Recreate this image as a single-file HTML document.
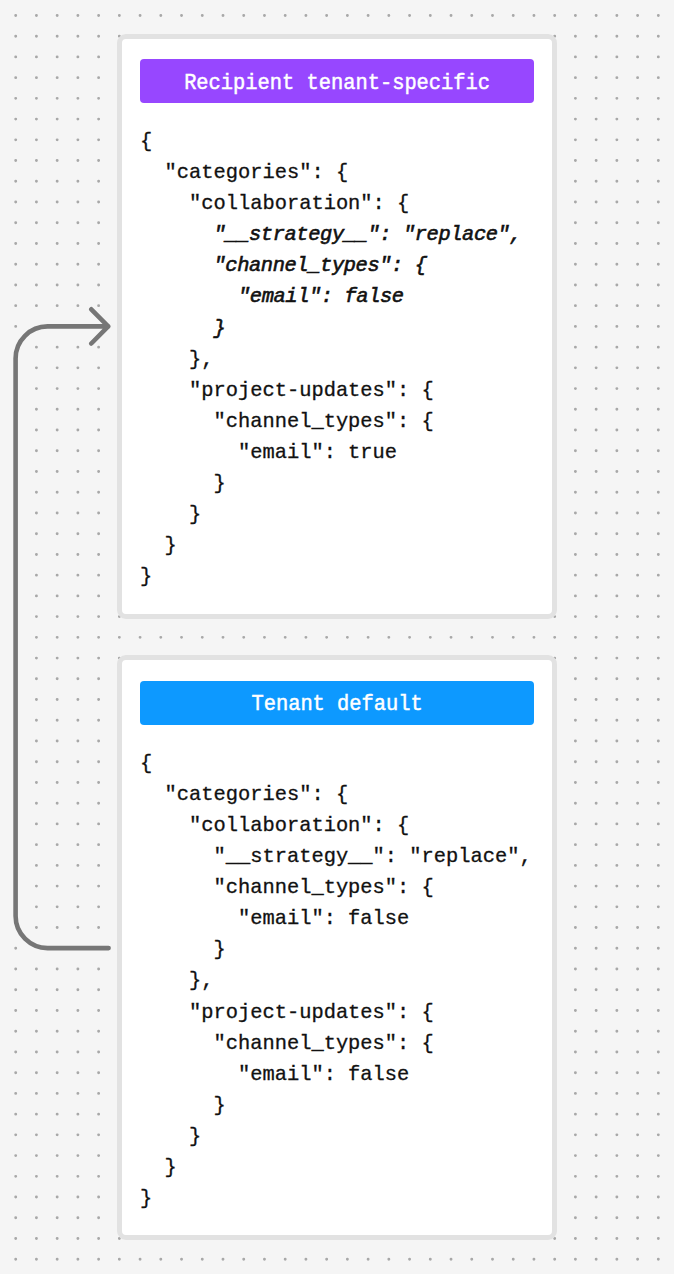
<!DOCTYPE html>
<html><head><meta charset="utf-8"><style>
html,body{margin:0;padding:0;}
body{width:674px;height:1274px;position:relative;overflow:hidden;background:#f5f5f5;font-family:"Liberation Mono",monospace;}
svg.bgd{position:absolute;left:0;top:0;}
.card{position:absolute;left:117.0px;width:429.80px;height:575.00px;border:5.0px solid #e2e2e2;border-radius:9px;background:#fff;}
.hdr{position:absolute;left:140.1px;width:394.0px;height:44.5px;border-radius:4px;}
.htxt{position:absolute;left:140.1px;width:394.0px;text-align:center;color:#fff;font-size:20.4px;line-height:31.09px;white-space:pre;-webkit-text-stroke:0.45px #fff;transform:scaleY(1.08);transform-origin:50% 20.97px;}
.ln{position:absolute;left:140.1px;font-size:20.4px;line-height:31.09px;white-space:pre;color:#111;-webkit-text-stroke:0.3px #111;}
.i0{letter-spacing:0;}
.em{font-style:italic;letter-spacing:-0.4px;-webkit-text-stroke:0.6px #111;}
</style></head><body>
<svg class="bgd" width="674" height="1274"><path d="M15.70 15.45h0M36.43 15.45h0M57.16 15.45h0M77.89 15.45h0M98.62 15.45h0M119.35 15.45h0M140.08 15.45h0M160.81 15.45h0M181.54 15.45h0M202.27 15.45h0M223.00 15.45h0M243.73 15.45h0M264.46 15.45h0M285.19 15.45h0M305.92 15.45h0M326.65 15.45h0M347.38 15.45h0M368.11 15.45h0M388.84 15.45h0M409.57 15.45h0M430.30 15.45h0M451.03 15.45h0M471.76 15.45h0M492.49 15.45h0M513.22 15.45h0M533.95 15.45h0M554.68 15.45h0M575.41 15.45h0M596.14 15.45h0M616.87 15.45h0M637.60 15.45h0M658.33 15.45h0M679.06 15.45h0M15.70 36.18h0M36.43 36.18h0M57.16 36.18h0M77.89 36.18h0M98.62 36.18h0M119.35 36.18h0M140.08 36.18h0M160.81 36.18h0M181.54 36.18h0M202.27 36.18h0M223.00 36.18h0M243.73 36.18h0M264.46 36.18h0M285.19 36.18h0M305.92 36.18h0M326.65 36.18h0M347.38 36.18h0M368.11 36.18h0M388.84 36.18h0M409.57 36.18h0M430.30 36.18h0M451.03 36.18h0M471.76 36.18h0M492.49 36.18h0M513.22 36.18h0M533.95 36.18h0M554.68 36.18h0M575.41 36.18h0M596.14 36.18h0M616.87 36.18h0M637.60 36.18h0M658.33 36.18h0M679.06 36.18h0M15.70 56.91h0M36.43 56.91h0M57.16 56.91h0M77.89 56.91h0M98.62 56.91h0M119.35 56.91h0M140.08 56.91h0M160.81 56.91h0M181.54 56.91h0M202.27 56.91h0M223.00 56.91h0M243.73 56.91h0M264.46 56.91h0M285.19 56.91h0M305.92 56.91h0M326.65 56.91h0M347.38 56.91h0M368.11 56.91h0M388.84 56.91h0M409.57 56.91h0M430.30 56.91h0M451.03 56.91h0M471.76 56.91h0M492.49 56.91h0M513.22 56.91h0M533.95 56.91h0M554.68 56.91h0M575.41 56.91h0M596.14 56.91h0M616.87 56.91h0M637.60 56.91h0M658.33 56.91h0M679.06 56.91h0M15.70 77.64h0M36.43 77.64h0M57.16 77.64h0M77.89 77.64h0M98.62 77.64h0M119.35 77.64h0M140.08 77.64h0M160.81 77.64h0M181.54 77.64h0M202.27 77.64h0M223.00 77.64h0M243.73 77.64h0M264.46 77.64h0M285.19 77.64h0M305.92 77.64h0M326.65 77.64h0M347.38 77.64h0M368.11 77.64h0M388.84 77.64h0M409.57 77.64h0M430.30 77.64h0M451.03 77.64h0M471.76 77.64h0M492.49 77.64h0M513.22 77.64h0M533.95 77.64h0M554.68 77.64h0M575.41 77.64h0M596.14 77.64h0M616.87 77.64h0M637.60 77.64h0M658.33 77.64h0M679.06 77.64h0M15.70 98.37h0M36.43 98.37h0M57.16 98.37h0M77.89 98.37h0M98.62 98.37h0M119.35 98.37h0M140.08 98.37h0M160.81 98.37h0M181.54 98.37h0M202.27 98.37h0M223.00 98.37h0M243.73 98.37h0M264.46 98.37h0M285.19 98.37h0M305.92 98.37h0M326.65 98.37h0M347.38 98.37h0M368.11 98.37h0M388.84 98.37h0M409.57 98.37h0M430.30 98.37h0M451.03 98.37h0M471.76 98.37h0M492.49 98.37h0M513.22 98.37h0M533.95 98.37h0M554.68 98.37h0M575.41 98.37h0M596.14 98.37h0M616.87 98.37h0M637.60 98.37h0M658.33 98.37h0M679.06 98.37h0M15.70 119.10h0M36.43 119.10h0M57.16 119.10h0M77.89 119.10h0M98.62 119.10h0M119.35 119.10h0M140.08 119.10h0M160.81 119.10h0M181.54 119.10h0M202.27 119.10h0M223.00 119.10h0M243.73 119.10h0M264.46 119.10h0M285.19 119.10h0M305.92 119.10h0M326.65 119.10h0M347.38 119.10h0M368.11 119.10h0M388.84 119.10h0M409.57 119.10h0M430.30 119.10h0M451.03 119.10h0M471.76 119.10h0M492.49 119.10h0M513.22 119.10h0M533.95 119.10h0M554.68 119.10h0M575.41 119.10h0M596.14 119.10h0M616.87 119.10h0M637.60 119.10h0M658.33 119.10h0M679.06 119.10h0M15.70 139.83h0M36.43 139.83h0M57.16 139.83h0M77.89 139.83h0M98.62 139.83h0M119.35 139.83h0M140.08 139.83h0M160.81 139.83h0M181.54 139.83h0M202.27 139.83h0M223.00 139.83h0M243.73 139.83h0M264.46 139.83h0M285.19 139.83h0M305.92 139.83h0M326.65 139.83h0M347.38 139.83h0M368.11 139.83h0M388.84 139.83h0M409.57 139.83h0M430.30 139.83h0M451.03 139.83h0M471.76 139.83h0M492.49 139.83h0M513.22 139.83h0M533.95 139.83h0M554.68 139.83h0M575.41 139.83h0M596.14 139.83h0M616.87 139.83h0M637.60 139.83h0M658.33 139.83h0M679.06 139.83h0M15.70 160.56h0M36.43 160.56h0M57.16 160.56h0M77.89 160.56h0M98.62 160.56h0M119.35 160.56h0M140.08 160.56h0M160.81 160.56h0M181.54 160.56h0M202.27 160.56h0M223.00 160.56h0M243.73 160.56h0M264.46 160.56h0M285.19 160.56h0M305.92 160.56h0M326.65 160.56h0M347.38 160.56h0M368.11 160.56h0M388.84 160.56h0M409.57 160.56h0M430.30 160.56h0M451.03 160.56h0M471.76 160.56h0M492.49 160.56h0M513.22 160.56h0M533.95 160.56h0M554.68 160.56h0M575.41 160.56h0M596.14 160.56h0M616.87 160.56h0M637.60 160.56h0M658.33 160.56h0M679.06 160.56h0M15.70 181.29h0M36.43 181.29h0M57.16 181.29h0M77.89 181.29h0M98.62 181.29h0M119.35 181.29h0M140.08 181.29h0M160.81 181.29h0M181.54 181.29h0M202.27 181.29h0M223.00 181.29h0M243.73 181.29h0M264.46 181.29h0M285.19 181.29h0M305.92 181.29h0M326.65 181.29h0M347.38 181.29h0M368.11 181.29h0M388.84 181.29h0M409.57 181.29h0M430.30 181.29h0M451.03 181.29h0M471.76 181.29h0M492.49 181.29h0M513.22 181.29h0M533.95 181.29h0M554.68 181.29h0M575.41 181.29h0M596.14 181.29h0M616.87 181.29h0M637.60 181.29h0M658.33 181.29h0M679.06 181.29h0M15.70 202.02h0M36.43 202.02h0M57.16 202.02h0M77.89 202.02h0M98.62 202.02h0M119.35 202.02h0M140.08 202.02h0M160.81 202.02h0M181.54 202.02h0M202.27 202.02h0M223.00 202.02h0M243.73 202.02h0M264.46 202.02h0M285.19 202.02h0M305.92 202.02h0M326.65 202.02h0M347.38 202.02h0M368.11 202.02h0M388.84 202.02h0M409.57 202.02h0M430.30 202.02h0M451.03 202.02h0M471.76 202.02h0M492.49 202.02h0M513.22 202.02h0M533.95 202.02h0M554.68 202.02h0M575.41 202.02h0M596.14 202.02h0M616.87 202.02h0M637.60 202.02h0M658.33 202.02h0M679.06 202.02h0M15.70 222.75h0M36.43 222.75h0M57.16 222.75h0M77.89 222.75h0M98.62 222.75h0M119.35 222.75h0M140.08 222.75h0M160.81 222.75h0M181.54 222.75h0M202.27 222.75h0M223.00 222.75h0M243.73 222.75h0M264.46 222.75h0M285.19 222.75h0M305.92 222.75h0M326.65 222.75h0M347.38 222.75h0M368.11 222.75h0M388.84 222.75h0M409.57 222.75h0M430.30 222.75h0M451.03 222.75h0M471.76 222.75h0M492.49 222.75h0M513.22 222.75h0M533.95 222.75h0M554.68 222.75h0M575.41 222.75h0M596.14 222.75h0M616.87 222.75h0M637.60 222.75h0M658.33 222.75h0M679.06 222.75h0M15.70 243.48h0M36.43 243.48h0M57.16 243.48h0M77.89 243.48h0M98.62 243.48h0M119.35 243.48h0M140.08 243.48h0M160.81 243.48h0M181.54 243.48h0M202.27 243.48h0M223.00 243.48h0M243.73 243.48h0M264.46 243.48h0M285.19 243.48h0M305.92 243.48h0M326.65 243.48h0M347.38 243.48h0M368.11 243.48h0M388.84 243.48h0M409.57 243.48h0M430.30 243.48h0M451.03 243.48h0M471.76 243.48h0M492.49 243.48h0M513.22 243.48h0M533.95 243.48h0M554.68 243.48h0M575.41 243.48h0M596.14 243.48h0M616.87 243.48h0M637.60 243.48h0M658.33 243.48h0M679.06 243.48h0M15.70 264.21h0M36.43 264.21h0M57.16 264.21h0M77.89 264.21h0M98.62 264.21h0M119.35 264.21h0M140.08 264.21h0M160.81 264.21h0M181.54 264.21h0M202.27 264.21h0M223.00 264.21h0M243.73 264.21h0M264.46 264.21h0M285.19 264.21h0M305.92 264.21h0M326.65 264.21h0M347.38 264.21h0M368.11 264.21h0M388.84 264.21h0M409.57 264.21h0M430.30 264.21h0M451.03 264.21h0M471.76 264.21h0M492.49 264.21h0M513.22 264.21h0M533.95 264.21h0M554.68 264.21h0M575.41 264.21h0M596.14 264.21h0M616.87 264.21h0M637.60 264.21h0M658.33 264.21h0M679.06 264.21h0M15.70 284.94h0M36.43 284.94h0M57.16 284.94h0M77.89 284.94h0M98.62 284.94h0M119.35 284.94h0M140.08 284.94h0M160.81 284.94h0M181.54 284.94h0M202.27 284.94h0M223.00 284.94h0M243.73 284.94h0M264.46 284.94h0M285.19 284.94h0M305.92 284.94h0M326.65 284.94h0M347.38 284.94h0M368.11 284.94h0M388.84 284.94h0M409.57 284.94h0M430.30 284.94h0M451.03 284.94h0M471.76 284.94h0M492.49 284.94h0M513.22 284.94h0M533.95 284.94h0M554.68 284.94h0M575.41 284.94h0M596.14 284.94h0M616.87 284.94h0M637.60 284.94h0M658.33 284.94h0M679.06 284.94h0M15.70 305.67h0M36.43 305.67h0M57.16 305.67h0M77.89 305.67h0M98.62 305.67h0M119.35 305.67h0M140.08 305.67h0M160.81 305.67h0M181.54 305.67h0M202.27 305.67h0M223.00 305.67h0M243.73 305.67h0M264.46 305.67h0M285.19 305.67h0M305.92 305.67h0M326.65 305.67h0M347.38 305.67h0M368.11 305.67h0M388.84 305.67h0M409.57 305.67h0M430.30 305.67h0M451.03 305.67h0M471.76 305.67h0M492.49 305.67h0M513.22 305.67h0M533.95 305.67h0M554.68 305.67h0M575.41 305.67h0M596.14 305.67h0M616.87 305.67h0M637.60 305.67h0M658.33 305.67h0M679.06 305.67h0M15.70 326.40h0M119.35 326.40h0M140.08 326.40h0M160.81 326.40h0M181.54 326.40h0M202.27 326.40h0M223.00 326.40h0M243.73 326.40h0M264.46 326.40h0M285.19 326.40h0M305.92 326.40h0M326.65 326.40h0M347.38 326.40h0M368.11 326.40h0M388.84 326.40h0M409.57 326.40h0M430.30 326.40h0M451.03 326.40h0M471.76 326.40h0M492.49 326.40h0M513.22 326.40h0M533.95 326.40h0M554.68 326.40h0M575.41 326.40h0M596.14 326.40h0M616.87 326.40h0M637.60 326.40h0M658.33 326.40h0M679.06 326.40h0M36.43 347.13h0M57.16 347.13h0M77.89 347.13h0M98.62 347.13h0M119.35 347.13h0M140.08 347.13h0M160.81 347.13h0M181.54 347.13h0M202.27 347.13h0M223.00 347.13h0M243.73 347.13h0M264.46 347.13h0M285.19 347.13h0M305.92 347.13h0M326.65 347.13h0M347.38 347.13h0M368.11 347.13h0M388.84 347.13h0M409.57 347.13h0M430.30 347.13h0M451.03 347.13h0M471.76 347.13h0M492.49 347.13h0M513.22 347.13h0M533.95 347.13h0M554.68 347.13h0M575.41 347.13h0M596.14 347.13h0M616.87 347.13h0M637.60 347.13h0M658.33 347.13h0M679.06 347.13h0M36.43 367.86h0M57.16 367.86h0M77.89 367.86h0M98.62 367.86h0M119.35 367.86h0M140.08 367.86h0M160.81 367.86h0M181.54 367.86h0M202.27 367.86h0M223.00 367.86h0M243.73 367.86h0M264.46 367.86h0M285.19 367.86h0M305.92 367.86h0M326.65 367.86h0M347.38 367.86h0M368.11 367.86h0M388.84 367.86h0M409.57 367.86h0M430.30 367.86h0M451.03 367.86h0M471.76 367.86h0M492.49 367.86h0M513.22 367.86h0M533.95 367.86h0M554.68 367.86h0M575.41 367.86h0M596.14 367.86h0M616.87 367.86h0M637.60 367.86h0M658.33 367.86h0M679.06 367.86h0M36.43 388.59h0M57.16 388.59h0M77.89 388.59h0M98.62 388.59h0M119.35 388.59h0M140.08 388.59h0M160.81 388.59h0M181.54 388.59h0M202.27 388.59h0M223.00 388.59h0M243.73 388.59h0M264.46 388.59h0M285.19 388.59h0M305.92 388.59h0M326.65 388.59h0M347.38 388.59h0M368.11 388.59h0M388.84 388.59h0M409.57 388.59h0M430.30 388.59h0M451.03 388.59h0M471.76 388.59h0M492.49 388.59h0M513.22 388.59h0M533.95 388.59h0M554.68 388.59h0M575.41 388.59h0M596.14 388.59h0M616.87 388.59h0M637.60 388.59h0M658.33 388.59h0M679.06 388.59h0M36.43 409.32h0M57.16 409.32h0M77.89 409.32h0M98.62 409.32h0M119.35 409.32h0M140.08 409.32h0M160.81 409.32h0M181.54 409.32h0M202.27 409.32h0M223.00 409.32h0M243.73 409.32h0M264.46 409.32h0M285.19 409.32h0M305.92 409.32h0M326.65 409.32h0M347.38 409.32h0M368.11 409.32h0M388.84 409.32h0M409.57 409.32h0M430.30 409.32h0M451.03 409.32h0M471.76 409.32h0M492.49 409.32h0M513.22 409.32h0M533.95 409.32h0M554.68 409.32h0M575.41 409.32h0M596.14 409.32h0M616.87 409.32h0M637.60 409.32h0M658.33 409.32h0M679.06 409.32h0M36.43 430.05h0M57.16 430.05h0M77.89 430.05h0M98.62 430.05h0M119.35 430.05h0M140.08 430.05h0M160.81 430.05h0M181.54 430.05h0M202.27 430.05h0M223.00 430.05h0M243.73 430.05h0M264.46 430.05h0M285.19 430.05h0M305.92 430.05h0M326.65 430.05h0M347.38 430.05h0M368.11 430.05h0M388.84 430.05h0M409.57 430.05h0M430.30 430.05h0M451.03 430.05h0M471.76 430.05h0M492.49 430.05h0M513.22 430.05h0M533.95 430.05h0M554.68 430.05h0M575.41 430.05h0M596.14 430.05h0M616.87 430.05h0M637.60 430.05h0M658.33 430.05h0M679.06 430.05h0M36.43 450.78h0M57.16 450.78h0M77.89 450.78h0M98.62 450.78h0M119.35 450.78h0M140.08 450.78h0M160.81 450.78h0M181.54 450.78h0M202.27 450.78h0M223.00 450.78h0M243.73 450.78h0M264.46 450.78h0M285.19 450.78h0M305.92 450.78h0M326.65 450.78h0M347.38 450.78h0M368.11 450.78h0M388.84 450.78h0M409.57 450.78h0M430.30 450.78h0M451.03 450.78h0M471.76 450.78h0M492.49 450.78h0M513.22 450.78h0M533.95 450.78h0M554.68 450.78h0M575.41 450.78h0M596.14 450.78h0M616.87 450.78h0M637.60 450.78h0M658.33 450.78h0M679.06 450.78h0M36.43 471.51h0M57.16 471.51h0M77.89 471.51h0M98.62 471.51h0M119.35 471.51h0M140.08 471.51h0M160.81 471.51h0M181.54 471.51h0M202.27 471.51h0M223.00 471.51h0M243.73 471.51h0M264.46 471.51h0M285.19 471.51h0M305.92 471.51h0M326.65 471.51h0M347.38 471.51h0M368.11 471.51h0M388.84 471.51h0M409.57 471.51h0M430.30 471.51h0M451.03 471.51h0M471.76 471.51h0M492.49 471.51h0M513.22 471.51h0M533.95 471.51h0M554.68 471.51h0M575.41 471.51h0M596.14 471.51h0M616.87 471.51h0M637.60 471.51h0M658.33 471.51h0M679.06 471.51h0M36.43 492.24h0M57.16 492.24h0M77.89 492.24h0M98.62 492.24h0M119.35 492.24h0M140.08 492.24h0M160.81 492.24h0M181.54 492.24h0M202.27 492.24h0M223.00 492.24h0M243.73 492.24h0M264.46 492.24h0M285.19 492.24h0M305.92 492.24h0M326.65 492.24h0M347.38 492.24h0M368.11 492.24h0M388.84 492.24h0M409.57 492.24h0M430.30 492.24h0M451.03 492.24h0M471.76 492.24h0M492.49 492.24h0M513.22 492.24h0M533.95 492.24h0M554.68 492.24h0M575.41 492.24h0M596.14 492.24h0M616.87 492.24h0M637.60 492.24h0M658.33 492.24h0M679.06 492.24h0M36.43 512.97h0M57.16 512.97h0M77.89 512.97h0M98.62 512.97h0M119.35 512.97h0M140.08 512.97h0M160.81 512.97h0M181.54 512.97h0M202.27 512.97h0M223.00 512.97h0M243.73 512.97h0M264.46 512.97h0M285.19 512.97h0M305.92 512.97h0M326.65 512.97h0M347.38 512.97h0M368.11 512.97h0M388.84 512.97h0M409.57 512.97h0M430.30 512.97h0M451.03 512.97h0M471.76 512.97h0M492.49 512.97h0M513.22 512.97h0M533.95 512.97h0M554.68 512.97h0M575.41 512.97h0M596.14 512.97h0M616.87 512.97h0M637.60 512.97h0M658.33 512.97h0M679.06 512.97h0M36.43 533.70h0M57.16 533.70h0M77.89 533.70h0M98.62 533.70h0M119.35 533.70h0M140.08 533.70h0M160.81 533.70h0M181.54 533.70h0M202.27 533.70h0M223.00 533.70h0M243.73 533.70h0M264.46 533.70h0M285.19 533.70h0M305.92 533.70h0M326.65 533.70h0M347.38 533.70h0M368.11 533.70h0M388.84 533.70h0M409.57 533.70h0M430.30 533.70h0M451.03 533.70h0M471.76 533.70h0M492.49 533.70h0M513.22 533.70h0M533.95 533.70h0M554.68 533.70h0M575.41 533.70h0M596.14 533.70h0M616.87 533.70h0M637.60 533.70h0M658.33 533.70h0M679.06 533.70h0M36.43 554.43h0M57.16 554.43h0M77.89 554.43h0M98.62 554.43h0M119.35 554.43h0M140.08 554.43h0M160.81 554.43h0M181.54 554.43h0M202.27 554.43h0M223.00 554.43h0M243.73 554.43h0M264.46 554.43h0M285.19 554.43h0M305.92 554.43h0M326.65 554.43h0M347.38 554.43h0M368.11 554.43h0M388.84 554.43h0M409.57 554.43h0M430.30 554.43h0M451.03 554.43h0M471.76 554.43h0M492.49 554.43h0M513.22 554.43h0M533.95 554.43h0M554.68 554.43h0M575.41 554.43h0M596.14 554.43h0M616.87 554.43h0M637.60 554.43h0M658.33 554.43h0M679.06 554.43h0M36.43 575.16h0M57.16 575.16h0M77.89 575.16h0M98.62 575.16h0M119.35 575.16h0M140.08 575.16h0M160.81 575.16h0M181.54 575.16h0M202.27 575.16h0M223.00 575.16h0M243.73 575.16h0M264.46 575.16h0M285.19 575.16h0M305.92 575.16h0M326.65 575.16h0M347.38 575.16h0M368.11 575.16h0M388.84 575.16h0M409.57 575.16h0M430.30 575.16h0M451.03 575.16h0M471.76 575.16h0M492.49 575.16h0M513.22 575.16h0M533.95 575.16h0M554.68 575.16h0M575.41 575.16h0M596.14 575.16h0M616.87 575.16h0M637.60 575.16h0M658.33 575.16h0M679.06 575.16h0M36.43 595.89h0M57.16 595.89h0M77.89 595.89h0M98.62 595.89h0M119.35 595.89h0M140.08 595.89h0M160.81 595.89h0M181.54 595.89h0M202.27 595.89h0M223.00 595.89h0M243.73 595.89h0M264.46 595.89h0M285.19 595.89h0M305.92 595.89h0M326.65 595.89h0M347.38 595.89h0M368.11 595.89h0M388.84 595.89h0M409.57 595.89h0M430.30 595.89h0M451.03 595.89h0M471.76 595.89h0M492.49 595.89h0M513.22 595.89h0M533.95 595.89h0M554.68 595.89h0M575.41 595.89h0M596.14 595.89h0M616.87 595.89h0M637.60 595.89h0M658.33 595.89h0M679.06 595.89h0M36.43 616.62h0M57.16 616.62h0M77.89 616.62h0M98.62 616.62h0M119.35 616.62h0M140.08 616.62h0M160.81 616.62h0M181.54 616.62h0M202.27 616.62h0M223.00 616.62h0M243.73 616.62h0M264.46 616.62h0M285.19 616.62h0M305.92 616.62h0M326.65 616.62h0M347.38 616.62h0M368.11 616.62h0M388.84 616.62h0M409.57 616.62h0M430.30 616.62h0M451.03 616.62h0M471.76 616.62h0M492.49 616.62h0M513.22 616.62h0M533.95 616.62h0M554.68 616.62h0M575.41 616.62h0M596.14 616.62h0M616.87 616.62h0M637.60 616.62h0M658.33 616.62h0M679.06 616.62h0M36.43 637.35h0M57.16 637.35h0M77.89 637.35h0M98.62 637.35h0M119.35 637.35h0M140.08 637.35h0M160.81 637.35h0M181.54 637.35h0M202.27 637.35h0M223.00 637.35h0M243.73 637.35h0M264.46 637.35h0M285.19 637.35h0M305.92 637.35h0M326.65 637.35h0M347.38 637.35h0M368.11 637.35h0M388.84 637.35h0M409.57 637.35h0M430.30 637.35h0M451.03 637.35h0M471.76 637.35h0M492.49 637.35h0M513.22 637.35h0M533.95 637.35h0M554.68 637.35h0M575.41 637.35h0M596.14 637.35h0M616.87 637.35h0M637.60 637.35h0M658.33 637.35h0M679.06 637.35h0M36.43 658.08h0M57.16 658.08h0M77.89 658.08h0M98.62 658.08h0M119.35 658.08h0M140.08 658.08h0M160.81 658.08h0M181.54 658.08h0M202.27 658.08h0M223.00 658.08h0M243.73 658.08h0M264.46 658.08h0M285.19 658.08h0M305.92 658.08h0M326.65 658.08h0M347.38 658.08h0M368.11 658.08h0M388.84 658.08h0M409.57 658.08h0M430.30 658.08h0M451.03 658.08h0M471.76 658.08h0M492.49 658.08h0M513.22 658.08h0M533.95 658.08h0M554.68 658.08h0M575.41 658.08h0M596.14 658.08h0M616.87 658.08h0M637.60 658.08h0M658.33 658.08h0M679.06 658.08h0M36.43 678.81h0M57.16 678.81h0M77.89 678.81h0M98.62 678.81h0M119.35 678.81h0M140.08 678.81h0M160.81 678.81h0M181.54 678.81h0M202.27 678.81h0M223.00 678.81h0M243.73 678.81h0M264.46 678.81h0M285.19 678.81h0M305.92 678.81h0M326.65 678.81h0M347.38 678.81h0M368.11 678.81h0M388.84 678.81h0M409.57 678.81h0M430.30 678.81h0M451.03 678.81h0M471.76 678.81h0M492.49 678.81h0M513.22 678.81h0M533.95 678.81h0M554.68 678.81h0M575.41 678.81h0M596.14 678.81h0M616.87 678.81h0M637.60 678.81h0M658.33 678.81h0M679.06 678.81h0M36.43 699.54h0M57.16 699.54h0M77.89 699.54h0M98.62 699.54h0M119.35 699.54h0M140.08 699.54h0M160.81 699.54h0M181.54 699.54h0M202.27 699.54h0M223.00 699.54h0M243.73 699.54h0M264.46 699.54h0M285.19 699.54h0M305.92 699.54h0M326.65 699.54h0M347.38 699.54h0M368.11 699.54h0M388.84 699.54h0M409.57 699.54h0M430.30 699.54h0M451.03 699.54h0M471.76 699.54h0M492.49 699.54h0M513.22 699.54h0M533.95 699.54h0M554.68 699.54h0M575.41 699.54h0M596.14 699.54h0M616.87 699.54h0M637.60 699.54h0M658.33 699.54h0M679.06 699.54h0M36.43 720.27h0M57.16 720.27h0M77.89 720.27h0M98.62 720.27h0M119.35 720.27h0M140.08 720.27h0M160.81 720.27h0M181.54 720.27h0M202.27 720.27h0M223.00 720.27h0M243.73 720.27h0M264.46 720.27h0M285.19 720.27h0M305.92 720.27h0M326.65 720.27h0M347.38 720.27h0M368.11 720.27h0M388.84 720.27h0M409.57 720.27h0M430.30 720.27h0M451.03 720.27h0M471.76 720.27h0M492.49 720.27h0M513.22 720.27h0M533.95 720.27h0M554.68 720.27h0M575.41 720.27h0M596.14 720.27h0M616.87 720.27h0M637.60 720.27h0M658.33 720.27h0M679.06 720.27h0M36.43 741.00h0M57.16 741.00h0M77.89 741.00h0M98.62 741.00h0M119.35 741.00h0M140.08 741.00h0M160.81 741.00h0M181.54 741.00h0M202.27 741.00h0M223.00 741.00h0M243.73 741.00h0M264.46 741.00h0M285.19 741.00h0M305.92 741.00h0M326.65 741.00h0M347.38 741.00h0M368.11 741.00h0M388.84 741.00h0M409.57 741.00h0M430.30 741.00h0M451.03 741.00h0M471.76 741.00h0M492.49 741.00h0M513.22 741.00h0M533.95 741.00h0M554.68 741.00h0M575.41 741.00h0M596.14 741.00h0M616.87 741.00h0M637.60 741.00h0M658.33 741.00h0M679.06 741.00h0M36.43 761.73h0M57.16 761.73h0M77.89 761.73h0M98.62 761.73h0M119.35 761.73h0M140.08 761.73h0M160.81 761.73h0M181.54 761.73h0M202.27 761.73h0M223.00 761.73h0M243.73 761.73h0M264.46 761.73h0M285.19 761.73h0M305.92 761.73h0M326.65 761.73h0M347.38 761.73h0M368.11 761.73h0M388.84 761.73h0M409.57 761.73h0M430.30 761.73h0M451.03 761.73h0M471.76 761.73h0M492.49 761.73h0M513.22 761.73h0M533.95 761.73h0M554.68 761.73h0M575.41 761.73h0M596.14 761.73h0M616.87 761.73h0M637.60 761.73h0M658.33 761.73h0M679.06 761.73h0M36.43 782.46h0M57.16 782.46h0M77.89 782.46h0M98.62 782.46h0M119.35 782.46h0M140.08 782.46h0M160.81 782.46h0M181.54 782.46h0M202.27 782.46h0M223.00 782.46h0M243.73 782.46h0M264.46 782.46h0M285.19 782.46h0M305.92 782.46h0M326.65 782.46h0M347.38 782.46h0M368.11 782.46h0M388.84 782.46h0M409.57 782.46h0M430.30 782.46h0M451.03 782.46h0M471.76 782.46h0M492.49 782.46h0M513.22 782.46h0M533.95 782.46h0M554.68 782.46h0M575.41 782.46h0M596.14 782.46h0M616.87 782.46h0M637.60 782.46h0M658.33 782.46h0M679.06 782.46h0M36.43 803.19h0M57.16 803.19h0M77.89 803.19h0M98.62 803.19h0M119.35 803.19h0M140.08 803.19h0M160.81 803.19h0M181.54 803.19h0M202.27 803.19h0M223.00 803.19h0M243.73 803.19h0M264.46 803.19h0M285.19 803.19h0M305.92 803.19h0M326.65 803.19h0M347.38 803.19h0M368.11 803.19h0M388.84 803.19h0M409.57 803.19h0M430.30 803.19h0M451.03 803.19h0M471.76 803.19h0M492.49 803.19h0M513.22 803.19h0M533.95 803.19h0M554.68 803.19h0M575.41 803.19h0M596.14 803.19h0M616.87 803.19h0M637.60 803.19h0M658.33 803.19h0M679.06 803.19h0M36.43 823.92h0M57.16 823.92h0M77.89 823.92h0M98.62 823.92h0M119.35 823.92h0M140.08 823.92h0M160.81 823.92h0M181.54 823.92h0M202.27 823.92h0M223.00 823.92h0M243.73 823.92h0M264.46 823.92h0M285.19 823.92h0M305.92 823.92h0M326.65 823.92h0M347.38 823.92h0M368.11 823.92h0M388.84 823.92h0M409.57 823.92h0M430.30 823.92h0M451.03 823.92h0M471.76 823.92h0M492.49 823.92h0M513.22 823.92h0M533.95 823.92h0M554.68 823.92h0M575.41 823.92h0M596.14 823.92h0M616.87 823.92h0M637.60 823.92h0M658.33 823.92h0M679.06 823.92h0M36.43 844.65h0M57.16 844.65h0M77.89 844.65h0M98.62 844.65h0M119.35 844.65h0M140.08 844.65h0M160.81 844.65h0M181.54 844.65h0M202.27 844.65h0M223.00 844.65h0M243.73 844.65h0M264.46 844.65h0M285.19 844.65h0M305.92 844.65h0M326.65 844.65h0M347.38 844.65h0M368.11 844.65h0M388.84 844.65h0M409.57 844.65h0M430.30 844.65h0M451.03 844.65h0M471.76 844.65h0M492.49 844.65h0M513.22 844.65h0M533.95 844.65h0M554.68 844.65h0M575.41 844.65h0M596.14 844.65h0M616.87 844.65h0M637.60 844.65h0M658.33 844.65h0M679.06 844.65h0M36.43 865.38h0M57.16 865.38h0M77.89 865.38h0M98.62 865.38h0M119.35 865.38h0M140.08 865.38h0M160.81 865.38h0M181.54 865.38h0M202.27 865.38h0M223.00 865.38h0M243.73 865.38h0M264.46 865.38h0M285.19 865.38h0M305.92 865.38h0M326.65 865.38h0M347.38 865.38h0M368.11 865.38h0M388.84 865.38h0M409.57 865.38h0M430.30 865.38h0M451.03 865.38h0M471.76 865.38h0M492.49 865.38h0M513.22 865.38h0M533.95 865.38h0M554.68 865.38h0M575.41 865.38h0M596.14 865.38h0M616.87 865.38h0M637.60 865.38h0M658.33 865.38h0M679.06 865.38h0M36.43 886.11h0M57.16 886.11h0M77.89 886.11h0M98.62 886.11h0M119.35 886.11h0M140.08 886.11h0M160.81 886.11h0M181.54 886.11h0M202.27 886.11h0M223.00 886.11h0M243.73 886.11h0M264.46 886.11h0M285.19 886.11h0M305.92 886.11h0M326.65 886.11h0M347.38 886.11h0M368.11 886.11h0M388.84 886.11h0M409.57 886.11h0M430.30 886.11h0M451.03 886.11h0M471.76 886.11h0M492.49 886.11h0M513.22 886.11h0M533.95 886.11h0M554.68 886.11h0M575.41 886.11h0M596.14 886.11h0M616.87 886.11h0M637.60 886.11h0M658.33 886.11h0M679.06 886.11h0M36.43 906.84h0M57.16 906.84h0M77.89 906.84h0M98.62 906.84h0M119.35 906.84h0M140.08 906.84h0M160.81 906.84h0M181.54 906.84h0M202.27 906.84h0M223.00 906.84h0M243.73 906.84h0M264.46 906.84h0M285.19 906.84h0M305.92 906.84h0M326.65 906.84h0M347.38 906.84h0M368.11 906.84h0M388.84 906.84h0M409.57 906.84h0M430.30 906.84h0M451.03 906.84h0M471.76 906.84h0M492.49 906.84h0M513.22 906.84h0M533.95 906.84h0M554.68 906.84h0M575.41 906.84h0M596.14 906.84h0M616.87 906.84h0M637.60 906.84h0M658.33 906.84h0M679.06 906.84h0M36.43 927.57h0M57.16 927.57h0M77.89 927.57h0M98.62 927.57h0M119.35 927.57h0M140.08 927.57h0M160.81 927.57h0M181.54 927.57h0M202.27 927.57h0M223.00 927.57h0M243.73 927.57h0M264.46 927.57h0M285.19 927.57h0M305.92 927.57h0M326.65 927.57h0M347.38 927.57h0M368.11 927.57h0M388.84 927.57h0M409.57 927.57h0M430.30 927.57h0M451.03 927.57h0M471.76 927.57h0M492.49 927.57h0M513.22 927.57h0M533.95 927.57h0M554.68 927.57h0M575.41 927.57h0M596.14 927.57h0M616.87 927.57h0M637.60 927.57h0M658.33 927.57h0M679.06 927.57h0M15.70 948.30h0M119.35 948.30h0M140.08 948.30h0M160.81 948.30h0M181.54 948.30h0M202.27 948.30h0M223.00 948.30h0M243.73 948.30h0M264.46 948.30h0M285.19 948.30h0M305.92 948.30h0M326.65 948.30h0M347.38 948.30h0M368.11 948.30h0M388.84 948.30h0M409.57 948.30h0M430.30 948.30h0M451.03 948.30h0M471.76 948.30h0M492.49 948.30h0M513.22 948.30h0M533.95 948.30h0M554.68 948.30h0M575.41 948.30h0M596.14 948.30h0M616.87 948.30h0M637.60 948.30h0M658.33 948.30h0M679.06 948.30h0M15.70 969.03h0M36.43 969.03h0M57.16 969.03h0M77.89 969.03h0M98.62 969.03h0M119.35 969.03h0M140.08 969.03h0M160.81 969.03h0M181.54 969.03h0M202.27 969.03h0M223.00 969.03h0M243.73 969.03h0M264.46 969.03h0M285.19 969.03h0M305.92 969.03h0M326.65 969.03h0M347.38 969.03h0M368.11 969.03h0M388.84 969.03h0M409.57 969.03h0M430.30 969.03h0M451.03 969.03h0M471.76 969.03h0M492.49 969.03h0M513.22 969.03h0M533.95 969.03h0M554.68 969.03h0M575.41 969.03h0M596.14 969.03h0M616.87 969.03h0M637.60 969.03h0M658.33 969.03h0M679.06 969.03h0M15.70 989.76h0M36.43 989.76h0M57.16 989.76h0M77.89 989.76h0M98.62 989.76h0M119.35 989.76h0M140.08 989.76h0M160.81 989.76h0M181.54 989.76h0M202.27 989.76h0M223.00 989.76h0M243.73 989.76h0M264.46 989.76h0M285.19 989.76h0M305.92 989.76h0M326.65 989.76h0M347.38 989.76h0M368.11 989.76h0M388.84 989.76h0M409.57 989.76h0M430.30 989.76h0M451.03 989.76h0M471.76 989.76h0M492.49 989.76h0M513.22 989.76h0M533.95 989.76h0M554.68 989.76h0M575.41 989.76h0M596.14 989.76h0M616.87 989.76h0M637.60 989.76h0M658.33 989.76h0M679.06 989.76h0M15.70 1010.49h0M36.43 1010.49h0M57.16 1010.49h0M77.89 1010.49h0M98.62 1010.49h0M119.35 1010.49h0M140.08 1010.49h0M160.81 1010.49h0M181.54 1010.49h0M202.27 1010.49h0M223.00 1010.49h0M243.73 1010.49h0M264.46 1010.49h0M285.19 1010.49h0M305.92 1010.49h0M326.65 1010.49h0M347.38 1010.49h0M368.11 1010.49h0M388.84 1010.49h0M409.57 1010.49h0M430.30 1010.49h0M451.03 1010.49h0M471.76 1010.49h0M492.49 1010.49h0M513.22 1010.49h0M533.95 1010.49h0M554.68 1010.49h0M575.41 1010.49h0M596.14 1010.49h0M616.87 1010.49h0M637.60 1010.49h0M658.33 1010.49h0M679.06 1010.49h0M15.70 1031.22h0M36.43 1031.22h0M57.16 1031.22h0M77.89 1031.22h0M98.62 1031.22h0M119.35 1031.22h0M140.08 1031.22h0M160.81 1031.22h0M181.54 1031.22h0M202.27 1031.22h0M223.00 1031.22h0M243.73 1031.22h0M264.46 1031.22h0M285.19 1031.22h0M305.92 1031.22h0M326.65 1031.22h0M347.38 1031.22h0M368.11 1031.22h0M388.84 1031.22h0M409.57 1031.22h0M430.30 1031.22h0M451.03 1031.22h0M471.76 1031.22h0M492.49 1031.22h0M513.22 1031.22h0M533.95 1031.22h0M554.68 1031.22h0M575.41 1031.22h0M596.14 1031.22h0M616.87 1031.22h0M637.60 1031.22h0M658.33 1031.22h0M679.06 1031.22h0M15.70 1051.95h0M36.43 1051.95h0M57.16 1051.95h0M77.89 1051.95h0M98.62 1051.95h0M119.35 1051.95h0M140.08 1051.95h0M160.81 1051.95h0M181.54 1051.95h0M202.27 1051.95h0M223.00 1051.95h0M243.73 1051.95h0M264.46 1051.95h0M285.19 1051.95h0M305.92 1051.95h0M326.65 1051.95h0M347.38 1051.95h0M368.11 1051.95h0M388.84 1051.95h0M409.57 1051.95h0M430.30 1051.95h0M451.03 1051.95h0M471.76 1051.95h0M492.49 1051.95h0M513.22 1051.95h0M533.95 1051.95h0M554.68 1051.95h0M575.41 1051.95h0M596.14 1051.95h0M616.87 1051.95h0M637.60 1051.95h0M658.33 1051.95h0M679.06 1051.95h0M15.70 1072.68h0M36.43 1072.68h0M57.16 1072.68h0M77.89 1072.68h0M98.62 1072.68h0M119.35 1072.68h0M140.08 1072.68h0M160.81 1072.68h0M181.54 1072.68h0M202.27 1072.68h0M223.00 1072.68h0M243.73 1072.68h0M264.46 1072.68h0M285.19 1072.68h0M305.92 1072.68h0M326.65 1072.68h0M347.38 1072.68h0M368.11 1072.68h0M388.84 1072.68h0M409.57 1072.68h0M430.30 1072.68h0M451.03 1072.68h0M471.76 1072.68h0M492.49 1072.68h0M513.22 1072.68h0M533.95 1072.68h0M554.68 1072.68h0M575.41 1072.68h0M596.14 1072.68h0M616.87 1072.68h0M637.60 1072.68h0M658.33 1072.68h0M679.06 1072.68h0M15.70 1093.41h0M36.43 1093.41h0M57.16 1093.41h0M77.89 1093.41h0M98.62 1093.41h0M119.35 1093.41h0M140.08 1093.41h0M160.81 1093.41h0M181.54 1093.41h0M202.27 1093.41h0M223.00 1093.41h0M243.73 1093.41h0M264.46 1093.41h0M285.19 1093.41h0M305.92 1093.41h0M326.65 1093.41h0M347.38 1093.41h0M368.11 1093.41h0M388.84 1093.41h0M409.57 1093.41h0M430.30 1093.41h0M451.03 1093.41h0M471.76 1093.41h0M492.49 1093.41h0M513.22 1093.41h0M533.95 1093.41h0M554.68 1093.41h0M575.41 1093.41h0M596.14 1093.41h0M616.87 1093.41h0M637.60 1093.41h0M658.33 1093.41h0M679.06 1093.41h0M15.70 1114.14h0M36.43 1114.14h0M57.16 1114.14h0M77.89 1114.14h0M98.62 1114.14h0M119.35 1114.14h0M140.08 1114.14h0M160.81 1114.14h0M181.54 1114.14h0M202.27 1114.14h0M223.00 1114.14h0M243.73 1114.14h0M264.46 1114.14h0M285.19 1114.14h0M305.92 1114.14h0M326.65 1114.14h0M347.38 1114.14h0M368.11 1114.14h0M388.84 1114.14h0M409.57 1114.14h0M430.30 1114.14h0M451.03 1114.14h0M471.76 1114.14h0M492.49 1114.14h0M513.22 1114.14h0M533.95 1114.14h0M554.68 1114.14h0M575.41 1114.14h0M596.14 1114.14h0M616.87 1114.14h0M637.60 1114.14h0M658.33 1114.14h0M679.06 1114.14h0M15.70 1134.87h0M36.43 1134.87h0M57.16 1134.87h0M77.89 1134.87h0M98.62 1134.87h0M119.35 1134.87h0M140.08 1134.87h0M160.81 1134.87h0M181.54 1134.87h0M202.27 1134.87h0M223.00 1134.87h0M243.73 1134.87h0M264.46 1134.87h0M285.19 1134.87h0M305.92 1134.87h0M326.65 1134.87h0M347.38 1134.87h0M368.11 1134.87h0M388.84 1134.87h0M409.57 1134.87h0M430.30 1134.87h0M451.03 1134.87h0M471.76 1134.87h0M492.49 1134.87h0M513.22 1134.87h0M533.95 1134.87h0M554.68 1134.87h0M575.41 1134.87h0M596.14 1134.87h0M616.87 1134.87h0M637.60 1134.87h0M658.33 1134.87h0M679.06 1134.87h0M15.70 1155.60h0M36.43 1155.60h0M57.16 1155.60h0M77.89 1155.60h0M98.62 1155.60h0M119.35 1155.60h0M140.08 1155.60h0M160.81 1155.60h0M181.54 1155.60h0M202.27 1155.60h0M223.00 1155.60h0M243.73 1155.60h0M264.46 1155.60h0M285.19 1155.60h0M305.92 1155.60h0M326.65 1155.60h0M347.38 1155.60h0M368.11 1155.60h0M388.84 1155.60h0M409.57 1155.60h0M430.30 1155.60h0M451.03 1155.60h0M471.76 1155.60h0M492.49 1155.60h0M513.22 1155.60h0M533.95 1155.60h0M554.68 1155.60h0M575.41 1155.60h0M596.14 1155.60h0M616.87 1155.60h0M637.60 1155.60h0M658.33 1155.60h0M679.06 1155.60h0M15.70 1176.33h0M36.43 1176.33h0M57.16 1176.33h0M77.89 1176.33h0M98.62 1176.33h0M119.35 1176.33h0M140.08 1176.33h0M160.81 1176.33h0M181.54 1176.33h0M202.27 1176.33h0M223.00 1176.33h0M243.73 1176.33h0M264.46 1176.33h0M285.19 1176.33h0M305.92 1176.33h0M326.65 1176.33h0M347.38 1176.33h0M368.11 1176.33h0M388.84 1176.33h0M409.57 1176.33h0M430.30 1176.33h0M451.03 1176.33h0M471.76 1176.33h0M492.49 1176.33h0M513.22 1176.33h0M533.95 1176.33h0M554.68 1176.33h0M575.41 1176.33h0M596.14 1176.33h0M616.87 1176.33h0M637.60 1176.33h0M658.33 1176.33h0M679.06 1176.33h0M15.70 1197.06h0M36.43 1197.06h0M57.16 1197.06h0M77.89 1197.06h0M98.62 1197.06h0M119.35 1197.06h0M140.08 1197.06h0M160.81 1197.06h0M181.54 1197.06h0M202.27 1197.06h0M223.00 1197.06h0M243.73 1197.06h0M264.46 1197.06h0M285.19 1197.06h0M305.92 1197.06h0M326.65 1197.06h0M347.38 1197.06h0M368.11 1197.06h0M388.84 1197.06h0M409.57 1197.06h0M430.30 1197.06h0M451.03 1197.06h0M471.76 1197.06h0M492.49 1197.06h0M513.22 1197.06h0M533.95 1197.06h0M554.68 1197.06h0M575.41 1197.06h0M596.14 1197.06h0M616.87 1197.06h0M637.60 1197.06h0M658.33 1197.06h0M679.06 1197.06h0M15.70 1217.79h0M36.43 1217.79h0M57.16 1217.79h0M77.89 1217.79h0M98.62 1217.79h0M119.35 1217.79h0M140.08 1217.79h0M160.81 1217.79h0M181.54 1217.79h0M202.27 1217.79h0M223.00 1217.79h0M243.73 1217.79h0M264.46 1217.79h0M285.19 1217.79h0M305.92 1217.79h0M326.65 1217.79h0M347.38 1217.79h0M368.11 1217.79h0M388.84 1217.79h0M409.57 1217.79h0M430.30 1217.79h0M451.03 1217.79h0M471.76 1217.79h0M492.49 1217.79h0M513.22 1217.79h0M533.95 1217.79h0M554.68 1217.79h0M575.41 1217.79h0M596.14 1217.79h0M616.87 1217.79h0M637.60 1217.79h0M658.33 1217.79h0M679.06 1217.79h0M15.70 1238.52h0M36.43 1238.52h0M57.16 1238.52h0M77.89 1238.52h0M98.62 1238.52h0M119.35 1238.52h0M140.08 1238.52h0M160.81 1238.52h0M181.54 1238.52h0M202.27 1238.52h0M223.00 1238.52h0M243.73 1238.52h0M264.46 1238.52h0M285.19 1238.52h0M305.92 1238.52h0M326.65 1238.52h0M347.38 1238.52h0M368.11 1238.52h0M388.84 1238.52h0M409.57 1238.52h0M430.30 1238.52h0M451.03 1238.52h0M471.76 1238.52h0M492.49 1238.52h0M513.22 1238.52h0M533.95 1238.52h0M554.68 1238.52h0M575.41 1238.52h0M596.14 1238.52h0M616.87 1238.52h0M637.60 1238.52h0M658.33 1238.52h0M679.06 1238.52h0M15.70 1259.25h0M36.43 1259.25h0M57.16 1259.25h0M77.89 1259.25h0M98.62 1259.25h0M119.35 1259.25h0M140.08 1259.25h0M160.81 1259.25h0M181.54 1259.25h0M202.27 1259.25h0M223.00 1259.25h0M243.73 1259.25h0M264.46 1259.25h0M285.19 1259.25h0M305.92 1259.25h0M326.65 1259.25h0M347.38 1259.25h0M368.11 1259.25h0M388.84 1259.25h0M409.57 1259.25h0M430.30 1259.25h0M451.03 1259.25h0M471.76 1259.25h0M492.49 1259.25h0M513.22 1259.25h0M533.95 1259.25h0M554.68 1259.25h0M575.41 1259.25h0M596.14 1259.25h0M616.87 1259.25h0M637.60 1259.25h0M658.33 1259.25h0M679.06 1259.25h0M15.70 1279.98h0M36.43 1279.98h0M57.16 1279.98h0M77.89 1279.98h0M98.62 1279.98h0M119.35 1279.98h0M140.08 1279.98h0M160.81 1279.98h0M181.54 1279.98h0M202.27 1279.98h0M223.00 1279.98h0M243.73 1279.98h0M264.46 1279.98h0M285.19 1279.98h0M305.92 1279.98h0M326.65 1279.98h0M347.38 1279.98h0M368.11 1279.98h0M388.84 1279.98h0M409.57 1279.98h0M430.30 1279.98h0M451.03 1279.98h0M471.76 1279.98h0M492.49 1279.98h0M513.22 1279.98h0M533.95 1279.98h0M554.68 1279.98h0M575.41 1279.98h0M596.14 1279.98h0M616.87 1279.98h0M637.60 1279.98h0M658.33 1279.98h0M679.06 1279.98h0" stroke="#a8a8a8" stroke-width="2.9" stroke-linecap="round"/></svg>
<svg class="arr" width="674" height="1274" style="position:absolute;left:0;top:0">
<path d="M108.6 948.1H47.6A32 32 0 0 1 15.6 916.1V358.4A32 32 0 0 1 47.6 326.4H108.2M91.3 309.3L108.2 326.4L91.3 343.5" fill="none" stroke="#767676" stroke-width="4.6" stroke-linecap="round" stroke-linejoin="round"/>
</svg>
<div class="card" style="top:33.50px"></div>
<div class="hdr" style="top:58.90px;background:#9747ff"></div>
<div class="htxt" style="top:67.63px">Recipient tenant-specific</div>
<div class="ln" style="top:126.03px">{</div>
<div class="ln" style="top:157.12px">&nbsp;&nbsp;&quot;categories&quot;: {</div>
<div class="ln" style="top:188.21px">&nbsp;&nbsp;&nbsp;&nbsp;&quot;collaboration&quot;: {</div>
<div class="ln em" style="top:219.30px"><span class="i0">&nbsp;&nbsp;&nbsp;&nbsp;&nbsp;&nbsp;</span>&quot;__strategy__&quot;: &quot;replace&quot;,</div>
<div class="ln em" style="top:250.39px"><span class="i0">&nbsp;&nbsp;&nbsp;&nbsp;&nbsp;&nbsp;</span>&quot;channel_types&quot;: {</div>
<div class="ln em" style="top:281.48px"><span class="i0">&nbsp;&nbsp;&nbsp;&nbsp;&nbsp;&nbsp;&nbsp;&nbsp;</span>&quot;email&quot;: false</div>
<div class="ln em" style="top:312.57px"><span class="i0">&nbsp;&nbsp;&nbsp;&nbsp;&nbsp;&nbsp;</span>}</div>
<div class="ln" style="top:343.66px">&nbsp;&nbsp;&nbsp;&nbsp;},</div>
<div class="ln" style="top:374.75px">&nbsp;&nbsp;&nbsp;&nbsp;&quot;project-updates&quot;: {</div>
<div class="ln" style="top:405.84px">&nbsp;&nbsp;&nbsp;&nbsp;&nbsp;&nbsp;&quot;channel_types&quot;: {</div>
<div class="ln" style="top:436.93px">&nbsp;&nbsp;&nbsp;&nbsp;&nbsp;&nbsp;&nbsp;&nbsp;&quot;email&quot;: true</div>
<div class="ln" style="top:468.02px">&nbsp;&nbsp;&nbsp;&nbsp;&nbsp;&nbsp;}</div>
<div class="ln" style="top:499.11px">&nbsp;&nbsp;&nbsp;&nbsp;}</div>
<div class="ln" style="top:530.20px">&nbsp;&nbsp;}</div>
<div class="ln" style="top:561.29px">}</div>
<div class="card" style="top:655.30px"></div>
<div class="hdr" style="top:680.70px;background:#0d99ff"></div>
<div class="htxt" style="top:689.43px">Tenant default</div>
<div class="ln" style="top:747.83px">{</div>
<div class="ln" style="top:778.92px">&nbsp;&nbsp;&quot;categories&quot;: {</div>
<div class="ln" style="top:810.01px">&nbsp;&nbsp;&nbsp;&nbsp;&quot;collaboration&quot;: {</div>
<div class="ln" style="top:841.10px">&nbsp;&nbsp;&nbsp;&nbsp;&nbsp;&nbsp;&quot;__strategy__&quot;: &quot;replace&quot;,</div>
<div class="ln" style="top:872.19px">&nbsp;&nbsp;&nbsp;&nbsp;&nbsp;&nbsp;&quot;channel_types&quot;: {</div>
<div class="ln" style="top:903.28px">&nbsp;&nbsp;&nbsp;&nbsp;&nbsp;&nbsp;&nbsp;&nbsp;&quot;email&quot;: false</div>
<div class="ln" style="top:934.37px">&nbsp;&nbsp;&nbsp;&nbsp;&nbsp;&nbsp;}</div>
<div class="ln" style="top:965.46px">&nbsp;&nbsp;&nbsp;&nbsp;},</div>
<div class="ln" style="top:996.55px">&nbsp;&nbsp;&nbsp;&nbsp;&quot;project-updates&quot;: {</div>
<div class="ln" style="top:1027.64px">&nbsp;&nbsp;&nbsp;&nbsp;&nbsp;&nbsp;&quot;channel_types&quot;: {</div>
<div class="ln" style="top:1058.73px">&nbsp;&nbsp;&nbsp;&nbsp;&nbsp;&nbsp;&nbsp;&nbsp;&quot;email&quot;: false</div>
<div class="ln" style="top:1089.82px">&nbsp;&nbsp;&nbsp;&nbsp;&nbsp;&nbsp;}</div>
<div class="ln" style="top:1120.91px">&nbsp;&nbsp;&nbsp;&nbsp;}</div>
<div class="ln" style="top:1152.00px">&nbsp;&nbsp;}</div>
<div class="ln" style="top:1183.09px">}</div>
</body></html>
